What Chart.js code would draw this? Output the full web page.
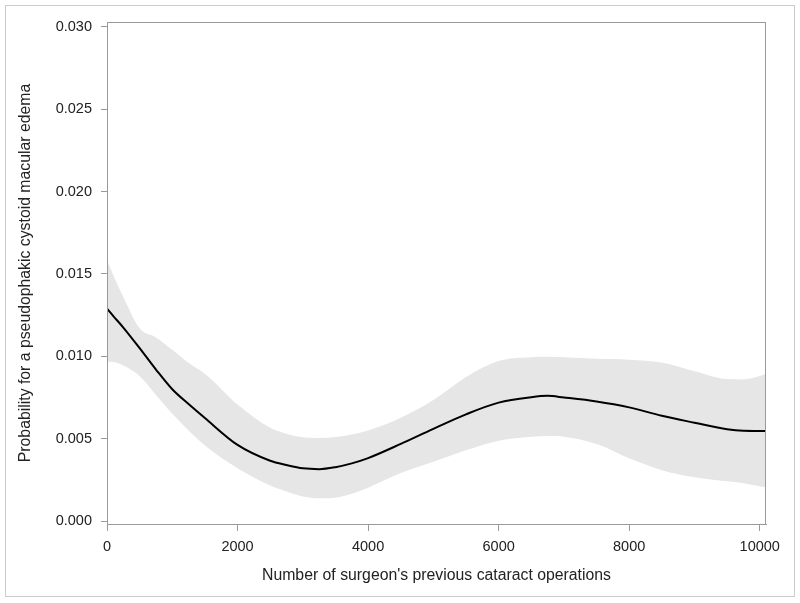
<!DOCTYPE html>
<html>
<head>
<meta charset="utf-8">
<script src="https://cdn.jsdelivr.net/npm/chart.js@4"></script>
<style>
	body { margin: 0; background: #ffffff; }
	#wrap { position: relative; width: 800px; height: 603px; }
</style>
</head>
<body>
<div id="wrap"><canvas id="grafica" width="800" height="603"></canvas></div>
<script>
/* ---- datos ---- */
const operaciones = [0, 100, 250, 500, 750, 1000, 1250, 1500, 2000, 2500, 2750, 3000, 3250, 3500, 3750, 4000,
	4500, 5000, 5500, 6000, 6500, 6750, 7000, 7500, 8000, 8500, 9000, 9500, 9750, 10000, 10096];
const probabilidad = [0.0129, 0.01243, 0.01175, 0.0105, 0.0092, 0.008, 0.0071, 0.00625, 0.00462, 0.00366, 0.0034, 0.0032, 0.00315, 0.00327, 0.0035, 0.00382,
	0.00468, 0.0056, 0.00648, 0.00719, 0.00752, 0.0076, 0.0075, 0.00726, 0.0069, 0.00639, 0.00597, 0.00557, 0.00548, 0.00547, 0.00547];
const limiteSuperior = [0.01585, 0.0149, 0.0136, 0.0117, 0.01115, 0.0104, 0.0096, 0.00895, 0.00707, 0.00566, 0.0053, 0.00508, 0.00504, 0.0051, 0.00525, 0.0055,
	0.00627, 0.00735, 0.00875, 0.00972, 0.00995, 0.00997, 0.00994, 0.00985, 0.0098, 0.00963, 0.0091, 0.00862, 0.0086, 0.0088, 0.00895];
const limiteInferior = [0.00967, 0.00965, 0.00945, 0.0088, 0.00765, 0.00651, 0.0055, 0.00459, 0.00321, 0.00216, 0.0018, 0.00149, 0.00138, 0.00142, 0.00165, 0.00202,
	0.00291, 0.0036, 0.0043, 0.00488, 0.00512, 0.00516, 0.00512, 0.00467, 0.00381, 0.00309, 0.00266, 0.00241, 0.0023, 0.00211, 0.00205];
const ticksX = [0, 2000, 4000, 6000, 8000, 10000];
const ticksY = [0, 0.005, 0.010, 0.015, 0.020, 0.025, 0.030];

const fuente = "'Liberation Sans', Arial, sans-serif";
const grisEje = "#9a9a9a";

function puntos(valores) {
	return operaciones.map((x, i) => ({ x: x, y: valores[i] }));
}

// marco exterior y caja del area de datos
const marcos = {
	id: "marcos",
	afterDraw(chart) {
		const c = chart.ctx;
		const a = chart.chartArea;
		c.save();
		c.strokeStyle = "#cccccc";
		c.lineWidth = 1;
		c.strokeRect(5.5, 5.5, 789, 591);
		c.strokeStyle = grisEje;
		c.strokeRect(a.left + 0.5, a.top + 0.5, a.right - a.left - 1, a.bottom - a.top);
		c.restore();
	},
};

const ctx = document.getElementById("grafica").getContext("2d");

let grafica = new Chart(ctx, {
	type: "line",
	data: {
		datasets: [
			{
				label: "Probabilidad",
				data: puntos(probabilidad),
				borderColor: "#000000",
				borderWidth: 2,
				pointRadius: 0,
				cubicInterpolationMode: "monotone",
				fill: false,
			},
			{
				label: "Superior",
				data: puntos(limiteSuperior),
				borderWidth: 0,
				borderColor: "rgba(0,0,0,0)",
				backgroundColor: "#e6e6e6",
				pointRadius: 0,
				cubicInterpolationMode: "monotone",
				fill: "+1",
			},
			{
				label: "Inferior",
				data: puntos(limiteInferior),
				borderWidth: 0,
				borderColor: "rgba(0,0,0,0)",
				pointRadius: 0,
				cubicInterpolationMode: "monotone",
				fill: false,
			},
		],
	},
	options: {
		responsive: false,
		animation: false,
		layout: { padding: { left: 0, top: 22, right: 34, bottom: 0 } },
		plugins: {
			legend: { display: false },
			tooltip: { enabled: false },
		},
		scales: {
			x: {
				type: "linear",
				min: 0,
				max: 10096,
				afterBuildTicks: (scale) => { scale.ticks = ticksX.map((v) => ({ value: v })); },
				afterFit: (scale) => { scale.height = 79; },
				grid: { drawOnChartArea: false, color: grisEje, tickLength: 7 },
				border: { color: grisEje },
				ticks: {
					color: "#222222",
					padding: 7,
					maxRotation: 0,
					font: { family: fuente, size: 14.5 },
					callback: (v) => String(v),
				},
				title: {
					display: true,
					text: "Number of surgeon's previous cataract operations",
					color: "#222222",
					font: { family: fuente, size: 15.8 },
					padding: { top: 4, bottom: 18 },
				},
			},
			y: {
				type: "linear",
				min: -0.00018,
				max: 0.0303,
				afterBuildTicks: (scale) => { scale.ticks = ticksY.map((v) => ({ value: v })); },
				afterFit: (scale) => { scale.width = 107; },
				grid: { drawOnChartArea: false, color: grisEje, tickLength: 6 },
				border: { color: grisEje },
				ticks: {
					color: "#222222",
					padding: 9,
					font: { family: fuente, size: 14.5 },
					callback: (v) => Number(v).toFixed(3),
				},
				title: {
					display: true,
					text: "Probability for a pseudophakic cystoid macular edema",
					color: "#222222",
					font: { family: fuente, size: 15.8 },
					padding: { top: 16, bottom: 4 },
				},
			},
		},
	},
	plugins: [marcos],
});
</script>
</body>
</html>
